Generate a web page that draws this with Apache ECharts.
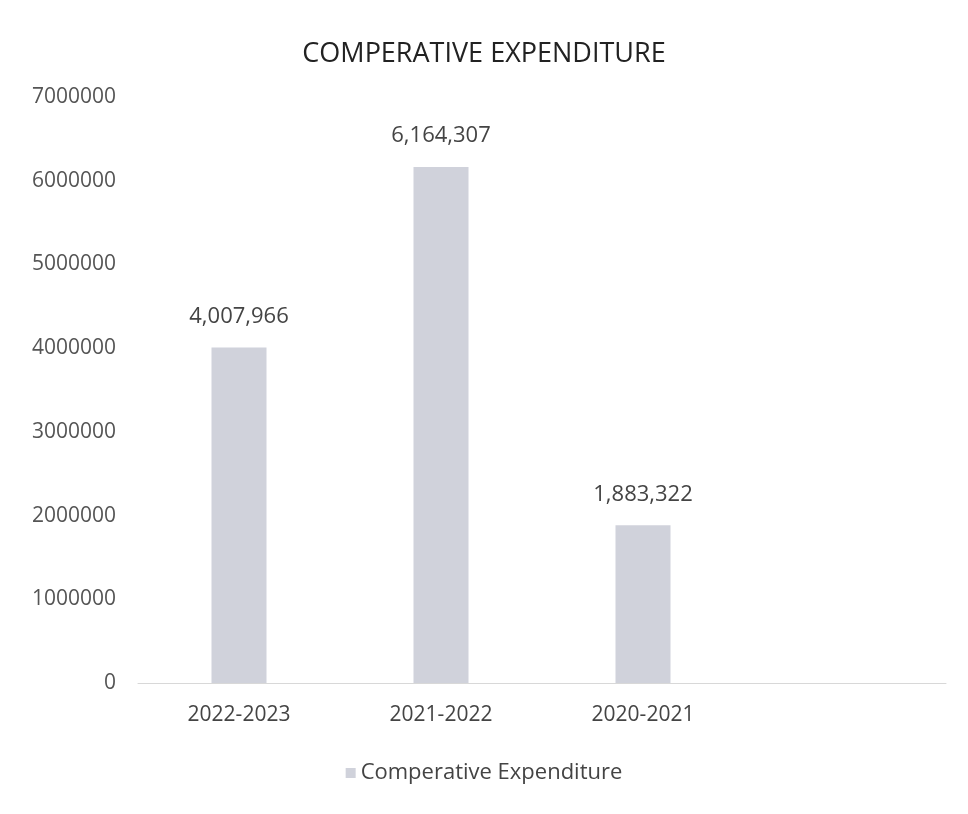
<!DOCTYPE html>
<html>
<head>
<meta charset="utf-8">
<script src="https://cdn.jsdelivr.net/npm/echarts@6/dist/echarts.min.js"></script>
<style>html,body{margin:0;padding:0;background:#fff;}#c{width:968px;height:814px;}</style>
</head>
<body>
<div id="c"></div>
<script>
const categories = ['2022-2023', '2021-2022', '2020-2021', ''];
const expenditure = [4007966, 6164307, 1883322, null];
const yTicks = [0, 1000000, 2000000, 3000000, 4000000, 5000000, 6000000, 7000000];
const seriesName = 'Comperative Expenditure';
const titleText = 'COMPERATIVE EXPENDITURE';

const chart = echarts.init(document.getElementById('c'));
const font = '"Open Sans", Lato, sans-serif';
chart.setOption({
  backgroundColor: '#ffffff',
  animation: false,
  title: {
    text: titleText, left: 'center', top: 36,
    textStyle: { fontFamily: font, fontSize: 27, fontWeight: 'normal', color: '#222' }
  },
  legend: {
    bottom: 25, left: 'center',
    itemWidth: 10, itemHeight: 10, itemGap: 7,
    icon: 'rect',
    textStyle: { fontFamily: font, fontSize: 22, color: '#444' },
    data: [seriesName]
  },
  grid: { left: 138, right: 22, top: 97, bottom: 131 },
  xAxis: {
    type: 'category', data: categories,
    axisLine: { show: true, lineStyle: { color: '#d8d8d8', width: 1 } },
    axisTick: { show: false },
    axisLabel: { fontFamily: font, fontSize: 21, color: '#444', margin: 22 }
  },
  yAxis: {
    type: 'value', min: yTicks[0], max: yTicks[yTicks.length - 1], interval: 1000000,
    axisLine: { show: false }, axisTick: { show: false },
    splitLine: { show: false },
    axisLabel: { fontFamily: font, fontSize: 21, color: '#555', margin: 22, formatter: v => String(v) }
  },
  series: [{
    name: seriesName, type: 'bar', data: expenditure, barWidth: 55,
    itemStyle: { color: '#d0d2db' },
    label: {
      show: true, position: 'top', distance: 20,
      fontFamily: font, fontSize: 22, color: '#444',
      formatter: p => p.value == null ? '' : Number(p.value).toLocaleString('en-US')
    }
  }]
});
</script>
</body>
</html>
